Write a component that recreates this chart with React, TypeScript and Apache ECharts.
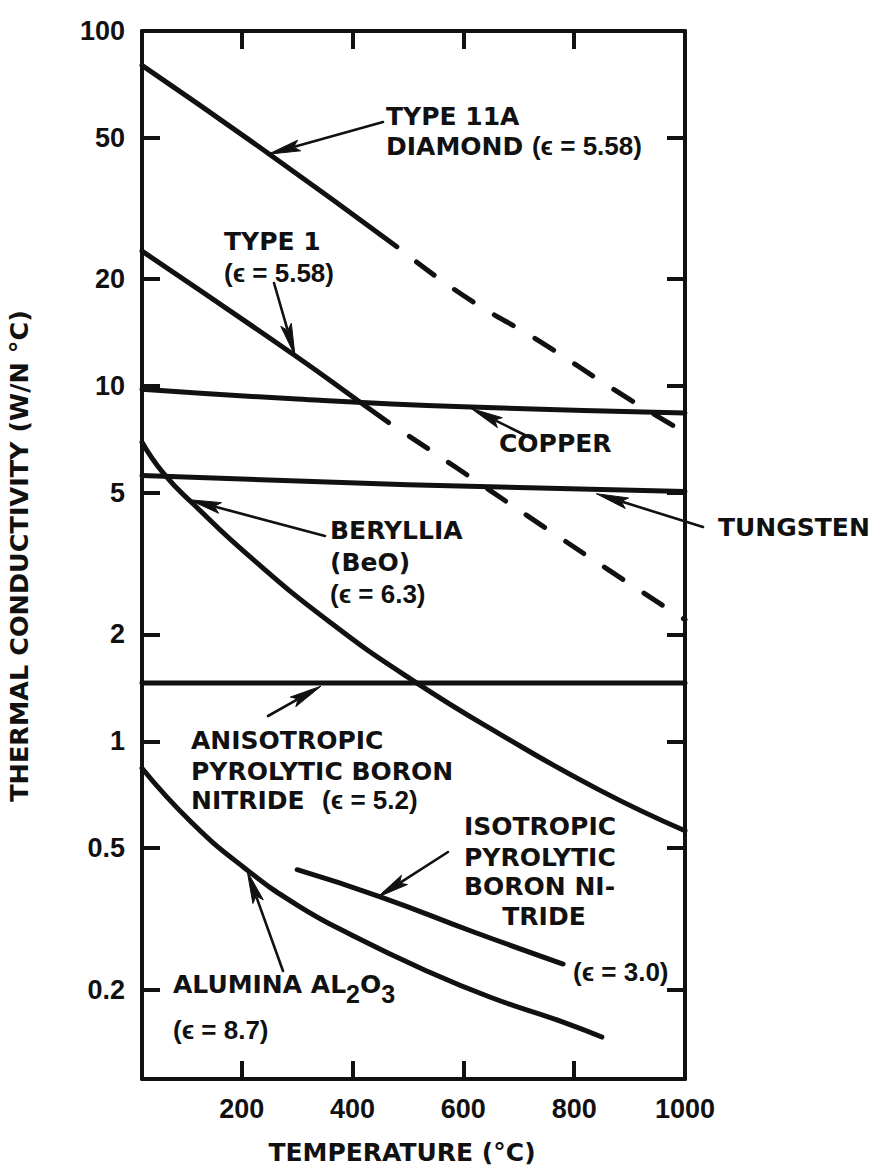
import React, { useEffect, useRef } from "react";
import * as echarts from "echarts";

// Temperature axis (°C)
const T_MIN = 20;
const T_MAX = 1000;
const tempTickValues = [200, 400, 600, 800];
const tempLabelValues = [200, 400, 600, 800, 1000];

// Thermal conductivity axis (log scale, W/N °C)
const K_MIN = 0.112;
const K_MAX = 100;
const condTickValues = [0.2, 0.5, 1, 2, 5, 10, 20, 50];
const condLabelValues = [0.2, 0.5, 1, 2, 5, 10, 20, 50, 100];

// Type IIA diamond: measured range (solid) and extrapolated range (dashed)
const diamondMeasuredT = [20, 250, 480];
const diamondMeasuredK = [80, 45, 24.7];
const diamondExtrapT = [480, 600, 740, 880, 1000];
const diamondExtrapK = [24.7, 18.0, 13.3, 9.6, 7.4];

// Type I diamond
const type1MeasuredT = [20, 296, 410, 465];
const type1MeasuredK = [24, 12.2, 9.1, 7.9];
const type1ExtrapT = [465, 587, 747, 912, 1000];
const type1ExtrapK = [7.9, 5.9, 4.0, 2.7, 2.2];

const copperT = [20, 300, 600, 1000];
const copperK = [9.8, 9.2, 8.75, 8.4];

const tungstenT = [20, 500, 1000];
const tungstenK = [5.6, 5.28, 5.05];

const berylliaT = [20, 60, 115, 210, 360, 510, 665, 845, 1000];
const berylliaK = [6.95, 5.65, 4.62, 3.36, 2.16, 1.48, 1.05, 0.73, 0.56];

const anisoBnT = [20, 1000];
const anisoBnK = [1.46, 1.46];

const aluminaT = [20, 110, 205, 300, 400, 525, 650, 780, 850];
const aluminaK = [0.84, 0.59, 0.44, 0.346, 0.284, 0.229, 0.19, 0.162, 0.147];

const isoBnT = [300, 450, 620, 780];
const isoBnK = [0.435, 0.365, 0.29, 0.236];

const INK = "#111";
const lg = (v: number) => Math.log10(v);
const pairs = (t: number[], k: number[]) => t.map((x, i) => [x, lg(k[i])]);

type RunKind = "word" | "paren" | "sub";
type Run = { s: string; kind: RunKind };
const w = (s: string): Run => ({ s, kind: "word" });
const p = (s: string): Run => ({ s, kind: "paren" });
const sub = (s: string): Run => ({ s, kind: "sub" });

const RUN_FONTS: Record<RunKind, { family: string; size: number; dy: number }> = {
  word: { family: '"DejaVu Sans"', size: 25, dy: 0 },
  paren: { family: '"Liberation Sans"', size: 26, dy: 0 },
  sub: { family: '"Liberation Sans"', size: 25, dy: 10 },
};

// Curve annotations (page pixels, left edge / vertical centre)
const annotations: { runs: Run[]; x: number; y: number; align?: "left" | "center" }[] = [
  { runs: [w("TYPE 11A")], x: 386, y: 116 },
  { runs: [w("DIAMOND "), p("(ϵ = 5.58)")], x: 386, y: 146 },
  { runs: [w("TYPE 1")], x: 224, y: 241 },
  { runs: [p("(ϵ = 5.58)")], x: 224, y: 273 },
  { runs: [w("COPPER")], x: 499, y: 443 },
  { runs: [w("TUNGSTEN")], x: 718, y: 527 },
  { runs: [w("BERYLLIA")], x: 330, y: 530 },
  { runs: [w("(BeO)")], x: 330, y: 562 },
  { runs: [p("(ϵ = 6.3)")], x: 330, y: 594 },
  { runs: [w("ANISOTROPIC")], x: 191, y: 740 },
  { runs: [w("PYROLYTIC BORON")], x: 191, y: 771 },
  { runs: [w("NITRIDE  "), p("(ϵ = 5.2)")], x: 191, y: 800 },
  { runs: [w("ISOTROPIC")], x: 464, y: 826 },
  { runs: [w("PYROLYTIC")], x: 464, y: 857 },
  { runs: [w("BORON NI-")], x: 464, y: 886 },
  { runs: [w("TRIDE")], x: 544, y: 916, align: "center" },
  { runs: [p("(ϵ = 3.0)")], x: 573, y: 972 },
  { runs: [w("ALUMINA AL"), sub("2"), w("O"), sub("3")], x: 173, y: 984 },
  { runs: [p("(ϵ = 8.7)")], x: 173, y: 1030 },
];

// Leader arrows: tail in page pixels, tip on the curve in data units
const arrows: { tail: [number, number]; tipT: number; tipK: number }[] = [
  { tail: [383, 122], tipT: 248, tipK: 45 },
  { tail: [274, 283], tipT: 296, tipK: 12.2 },
  { tail: [533, 439], tipT: 614, tipK: 8.65 },
  { tail: [703, 527], tipT: 840, tipK: 4.98 },
  { tail: [325, 536], tipT: 105, tipK: 4.79 },
  { tail: [268, 716], tipT: 343, tipK: 1.43 },
  { tail: [448, 852], tipT: 445, tipK: 0.364 },
  { tail: [283, 971], tipT: 210, tipK: 0.43 },
];

export default function App() {
  const ref = useRef<HTMLDivElement>(null);

  useEffect(() => {
    const el = ref.current;
    if (!el) return;
    const chart = echarts.init(el, null, { renderer: "svg" });

    const curve = (data: number[][], dashed = false, smooth: number | boolean = 0.5) => ({
      type: "line",
      data,
      showSymbol: false,
      symbol: "none",
      smooth,
      silent: true,
      z: 5,
      lineStyle: {
        color: INK,
        width: 5,
        cap: "round",
        join: "round",
        ...(dashed ? { type: [22, 25], dashOffset: 22 } : {}),
      },
    });

    const tickStyle = { color: INK, width: 4 };
    const tickFont = {
      color: INK,
      fontSize: 27,
      fontWeight: "bold",
      fontFamily: '"Liberation Sans", Arial, sans-serif',
    };
    const condFmt = (v: number) => String(Number(Math.pow(10, v).toPrecision(2)));

    const xBase = (pos: "bottom" | "top", labels: boolean) => ({
      type: "value",
      position: pos,
      min: T_MIN,
      max: T_MAX,
      axisLine: { show: true, onZero: false, lineStyle: tickStyle },
      axisTick: { show: true, inside: true, length: 18, customValues: tempTickValues, lineStyle: tickStyle },
      axisLabel: labels
        ? { show: true, customValues: tempLabelValues, margin: 16, ...tickFont, formatter: (v: number) => String(v) }
        : { show: false },
      splitLine: { show: false },
    });

    const yBase = (pos: "left" | "right", labels: boolean) => ({
      type: "value",
      position: pos,
      min: lg(K_MIN),
      max: lg(K_MAX),
      axisLine: { show: true, onZero: false, lineStyle: tickStyle },
      axisTick: { show: true, inside: true, length: 18, customValues: condTickValues.map(lg), lineStyle: tickStyle },
      axisLabel: labels
        ? { show: true, customValues: condLabelValues.map(lg), margin: 17, ...tickFont, formatter: condFmt }
        : { show: false },
      splitLine: { show: false },
    });

    chart.setOption({
      animation: false,
      backgroundColor: "#fff",
      grid: { left: 142, right: 195, top: 31, bottom: 93, containLabel: false },
      xAxis: [xBase("bottom", true), xBase("top", false)],
      yAxis: [yBase("left", true), yBase("right", false)],
      series: [
        curve(pairs(diamondMeasuredT, diamondMeasuredK)),
        curve(pairs(diamondExtrapT, diamondExtrapK), true),
        curve(pairs(type1MeasuredT, type1MeasuredK)),
        curve(pairs(type1ExtrapT, type1ExtrapK), true),
        curve(pairs(copperT, copperK)),
        curve(pairs(tungstenT, tungstenK), false, false),
        curve(pairs(berylliaT, berylliaK)),
        curve(pairs(anisoBnT, anisoBnK), false, false),
        curve(pairs(aluminaT, aluminaK)),
        curve(pairs(isoBnT, isoBnK)),
      ],
    });

    // Text layout helpers
    const ctx = document.createElement("canvas").getContext("2d")!;
    const measure = (r: Run) => {
      const f = RUN_FONTS[r.kind];
      ctx.font = `bold ${f.size}px ${f.family}`;
      return ctx.measureText(r.s).width;
    };

    const graphics: any[] = [];

    annotations.forEach((a) => {
      const widths = a.runs.map(measure);
      const total = widths.reduce((s, v) => s + v, 0);
      let cx = a.align === "center" ? a.x - total / 2 : a.x;
      a.runs.forEach((r, i) => {
        const f = RUN_FONTS[r.kind];
        graphics.push({
          type: "text",
          x: cx,
          y: a.y + f.dy,
          z: 20,
          silent: true,
          style: {
            text: r.s,
            fill: INK,
            fontFamily: f.family,
            fontSize: f.size,
            fontWeight: "bold",
            align: "left",
            verticalAlign: "middle",
          },
        });
        cx += widths[i];
      });
    });

    // Axis titles
    graphics.push({
      type: "text",
      x: 402,
      y: 1152,
      z: 20,
      silent: true,
      style: {
        text: "TEMPERATURE (°C)",
        fill: INK,
        fontFamily: '"DejaVu Sans"',
        fontSize: 25,
        fontWeight: "bold",
        align: "center",
        verticalAlign: "middle",
      },
    });
    graphics.push({
      type: "text",
      x: 19,
      y: 556,
      rotation: Math.PI / 2,
      z: 20,
      silent: true,
      style: {
        text: "THERMAL CONDUCTIVITY (W/N °C)",
        fill: INK,
        fontFamily: '"DejaVu Sans"',
        fontSize: 25.5,
        fontWeight: "bold",
        align: "center",
        verticalAlign: "middle",
      },
    });

    // Leader arrows with long narrow heads
    const HEAD_LEN = 32;
    const HEAD_HALF = 5.5;
    arrows.forEach((a) => {
      const tip = chart.convertToPixel({ xAxisIndex: 0, yAxisIndex: 0 }, [a.tipT, lg(a.tipK)]) as number[];
      const [tx, ty] = tip;
      const [sx, sy] = a.tail;
      const dx = tx - sx;
      const dy = ty - sy;
      const len = Math.hypot(dx, dy) || 1;
      const ux = dx / len;
      const uy = dy / len;
      const bx = tx - ux * HEAD_LEN;
      const by = ty - uy * HEAD_LEN;
      graphics.push({
        type: "line",
        z: 15,
        silent: true,
        shape: { x1: sx, y1: sy, x2: bx + ux * 4, y2: by + uy * 4 },
        style: { stroke: INK, lineWidth: 2.6, lineCap: "round" },
      });
      graphics.push({
        type: "polygon",
        z: 15,
        silent: true,
        shape: {
          points: [
            [tx, ty],
            [bx - uy * HEAD_HALF, by + ux * HEAD_HALF],
            [bx + ux * 6, by + uy * 6],
            [bx + uy * HEAD_HALF, by - ux * HEAD_HALF],
          ],
        },
        style: { fill: INK, stroke: INK, lineWidth: 1 },
      });
    });

    chart.setOption({ graphic: graphics });

    return () => {
      chart.dispose();
    };
  }, []);

  return (
    <div
      ref={ref}
      style={{ position: "fixed", left: 0, top: 0, width: 880, height: 1172, background: "#fff" }}
    />
  );
}
